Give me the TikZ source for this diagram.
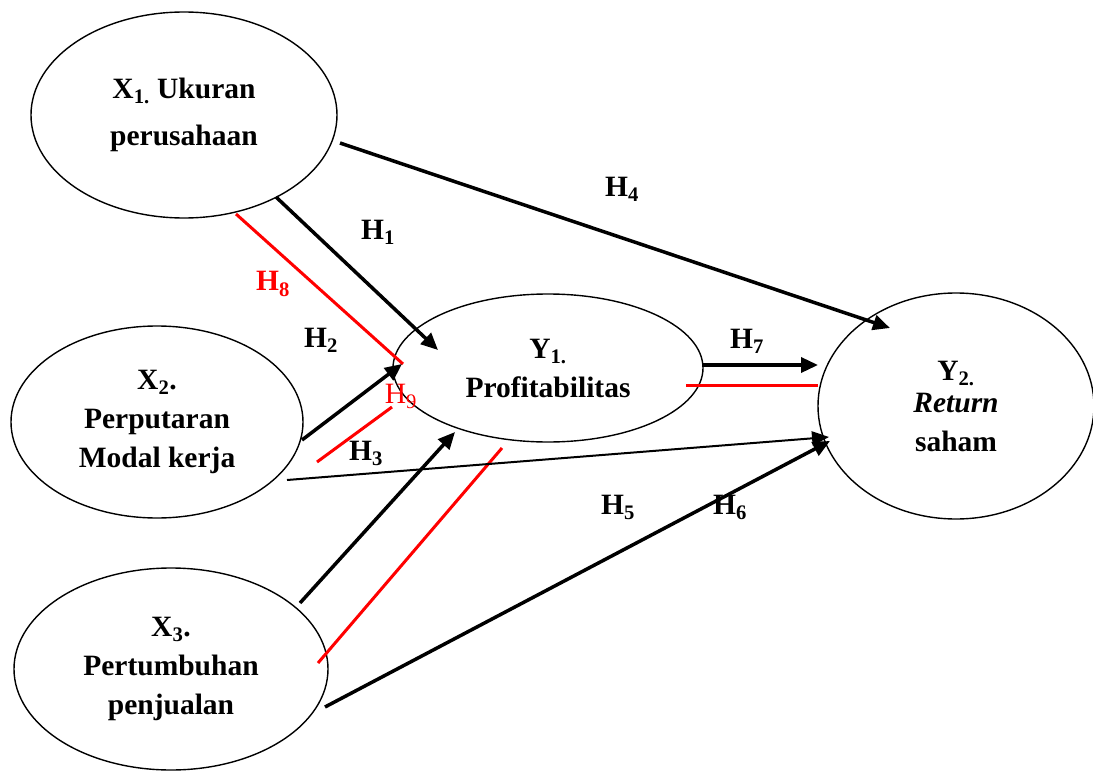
\documentclass[tikz,border=0pt]{standalone}
\usepackage{fontspec}
\setmainfont{Liberation Serif}
\usetikzlibrary{shapes.geometric,arrows.meta}
\begin{document}
\begin{tikzpicture}[x=1pt,y=-1pt,
  var/.style={draw,ellipse,line width=1.4pt,inner sep=0pt,align=center,
    font=\fontsize{29.5}{39}\selectfont\bfseries},
  hl/.style={font=\fontsize{29.5}{30}\selectfont\bfseries,inner sep=0pt},
  hred/.style={font=\fontsize{29.5}{30}\selectfont,inner sep=0pt,text=red},
  arr/.style={line width=3.5pt,-{Triangle[length=17pt,width=15pt]}},
  thinarr/.style={line width=2pt,-{Triangle[length=17pt,width=14pt]}},
  redline/.style={red,line width=3pt}]
\useasboundingbox (0,0) rectangle (1093,771);

% variables
\node[var,minimum width=306pt,minimum height=206pt] (x1) at (184,115)
  {X\textsubscript{1.} Ukuran\\[8pt]perusahaan};
\node[var,minimum width=292pt,minimum height=192pt] (x2) at (157,422)
  {X\textsubscript{2}.\\Perputaran\\Modal kerja};
\node[var,minimum width=314pt,minimum height=202pt] (x3) at (171,669)
  {X\textsubscript{3}.\\Pertumbuhan\\penjualan};
\node[var,minimum width=310pt,minimum height=148pt] (y1) at (548,368)
  {Y\textsubscript{1.}\\Profitabilitas};
\node[var,minimum width=276pt,minimum height=226pt] (y2) at (956,406)
  {Y\textsubscript{2.}\\[-7pt]\textit{Return}\\saham};

% connector end points
\coordinate (h1a) at (276,197);  \coordinate (h1b) at (438,350);
\coordinate (h4a) at (340,143);  \coordinate (h4b) at (890,328);
\coordinate (h2a) at (302,440);  \coordinate (h2b) at (402,364);
\coordinate (h5a) at (287,480);  \coordinate (h5b) at (829,437);
\coordinate (h3a) at (300,603);  \coordinate (h3b) at (455,432);
\coordinate (h6a) at (325,707);  \coordinate (h6b) at (830,441);
\coordinate (h7a) at (703,365);  \coordinate (h7b) at (818,365);
\coordinate (r1a) at (236,214);  \coordinate (r1b) at (403,364);
\coordinate (r2a) at (317,462);  \coordinate (r2b) at (392,407);
\coordinate (r3a) at (318,663);  \coordinate (r3b) at (502,448);
\coordinate (r4a) at (686,385);  \coordinate (r4b) at (818,385);

% red lines
\draw[redline] (r1a) -- (r1b);
\draw[redline] (r2a) -- (r2b);
\draw[redline] (r3a) -- (r3b);
\draw[redline] (r4a) -- (r4b);

% arrows
\draw[arr] (h1a) -- (h1b);
\draw[arr] (h4a) -- (h4b);
\draw[arr] (h2a) -- (h2b);
\draw[thinarr] (h5a) -- (h5b);
\draw[arr] (h3a) -- (h3b);
\draw[arr] (h6a) -- (h6b);
\draw[arr] (h7a) -- (h7b);

% labels
\node[hl] (l1) at (378,232) {H\textsubscript{1}};
\node[hl] (l2) at (321,340) {H\textsubscript{2}};
\node[hl] (l3) at (366,453) {H\textsubscript{3}};
\node[hl] (l4) at (622,189) {H\textsubscript{4}};
\node[hl] (l5) at (618,507) {H\textsubscript{5}};
\node[hl] (l6) at (730,507) {H\textsubscript{6}};
\node[hl] (l7) at (747,341) {H\textsubscript{7}};
\node[hl,text=red] (l8) at (273,284) {H\textsubscript{8}};
\node[hred] (l9) at (401,396) {H\textsubscript{9}};
\end{tikzpicture}
\end{document}
